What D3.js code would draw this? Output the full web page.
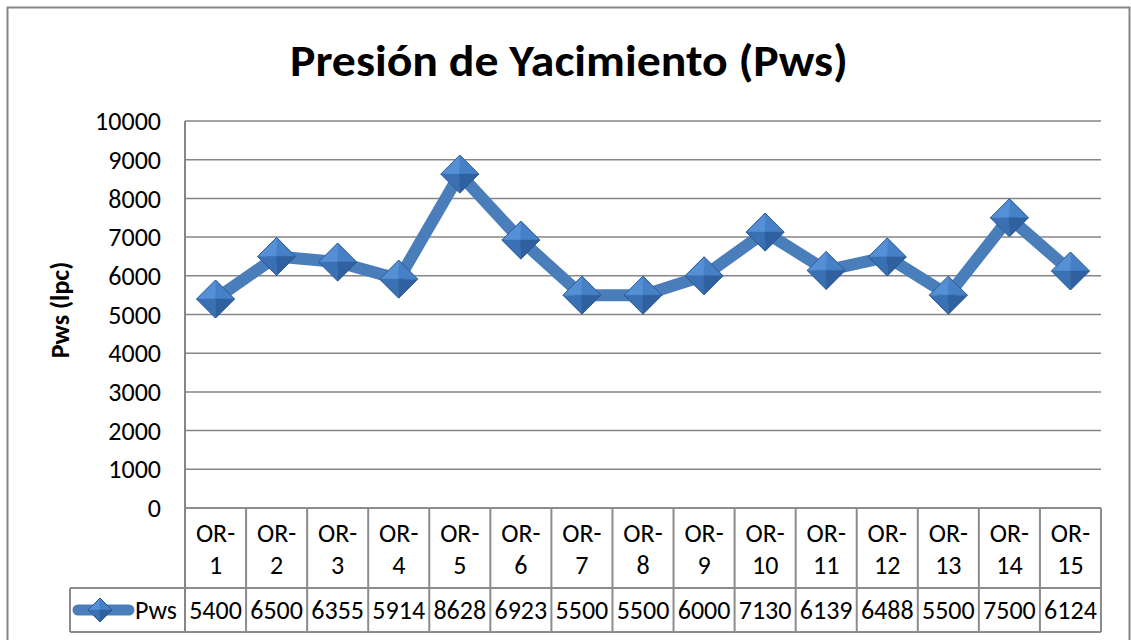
<!DOCTYPE html>
<meta charset="UTF-8">
<script src="https://d3js.org/d3.v7.min.js"></script>
<style>
  body { margin: 0; background: #fff; }
  text { font-family: "Carlito", "Open Sans", sans-serif; fill: #000; }
</style>
<body>
<div id="mysvg"></div>
<script>

// data
var categories = ["OR-1","OR-2","OR-3","OR-4","OR-5","OR-6","OR-7","OR-8","OR-9","OR-10","OR-11","OR-12","OR-13","OR-14","OR-15"];
var pws = [5400, 6500, 6355, 5914, 8628, 6923, 5500, 5500, 6000, 7130, 6139, 6488, 5500, 7500, 6124];
var yTicks = [0, 1000, 2000, 3000, 4000, 5000, 6000, 7000, 8000, 9000, 10000];
var seriesName = "Pws";
var title = "Presión de Yacimiento (Pws)";
var yTitle = "Pws (lpc)";

var W = 1131, H = 640;
var plotLeft = 185, plotRight = 1101, plotTop = 121, plotBottom = 508;
var rowCat = 588, rowVal = 632, legendLeft = 70;
var gridColor = "#868686";
var lineColor = "#4a7ebb";
var fs = "26px";

var svg = d3.select("#mysvg")
  .append("svg")
    .attr("width", W)
    .attr("height", H);

// chart border
svg.append("rect")
  .attr("x", 7.5).attr("y", 7.5)
  .attr("width", 1122).attr("height", 660)
  .attr("fill", "none")
  .attr("stroke", gridColor)
  .attr("stroke-width", 2);

var x = d3.scaleBand()
  .domain(categories)
  .range([plotLeft, plotRight]);

var y = d3.scaleLinear()
  .domain([0, 10000])
  .range([plotBottom, plotTop]);

// gridlines
svg.append("g")
  .selectAll("line")
  .data(yTicks)
  .enter()
  .append("line")
    .attr("x1", plotLeft).attr("x2", plotRight)
    .attr("y1", function (d) { return y(d); })
    .attr("y2", function (d) { return y(d); })
    .attr("stroke", gridColor)
    .attr("stroke-width", 1.5);

// y axis line
svg.append("line")
  .attr("x1", plotLeft).attr("x2", plotLeft)
  .attr("y1", plotTop).attr("y2", rowVal)
  .attr("stroke", gridColor)
  .attr("stroke-width", 2);

// y tick labels
svg.append("g")
  .selectAll("text")
  .data(yTicks)
  .enter()
  .append("text")
    .attr("x", 161)
    .attr("y", function (d) { return y(d); })
    .attr("dy", "0.35em")
    .attr("text-anchor", "end")
    .style("font-size", fs)
    .text(function (d) { return d; });

// y axis title
svg.append("text")
  .attr("transform", "translate(69," + 310 + ") rotate(-90)")
  .attr("text-anchor", "middle")
  .style("font-size", "26px")
  .style("font-weight", "bold")
  .text(yTitle);

// chart title
svg.append("text")
  .attr("x", 569)
  .attr("y", 76)
  .attr("text-anchor", "middle")
  .attr("textLength", 558)
  .attr("lengthAdjust", "spacingAndGlyphs")
  .style("font-size", "44px")
  .style("font-weight", "bold")
  .text(title);

// data table
var tbl = svg.append("g")
  .attr("stroke", "#8c8c8c")
  .attr("stroke-width", 2);

tbl.append("line").attr("x1", plotLeft).attr("x2", plotRight).attr("y1", plotBottom).attr("y2", plotBottom);
tbl.append("line").attr("x1", legendLeft).attr("x2", plotRight).attr("y1", rowCat).attr("y2", rowCat);
tbl.append("line").attr("x1", legendLeft).attr("x2", plotRight).attr("y1", rowVal).attr("y2", rowVal);
tbl.append("line").attr("x1", legendLeft).attr("x2", legendLeft).attr("y1", rowCat).attr("y2", rowVal);
tbl.selectAll(".col")
  .data(categories)
  .enter()
  .append("line")
    .attr("x1", function (d) { return x(d) + x.bandwidth(); })
    .attr("x2", function (d) { return x(d) + x.bandwidth(); })
    .attr("y1", plotBottom).attr("y2", rowVal);

var catLabels = svg.append("g")
  .selectAll("text")
  .data(categories)
  .enter()
  .append("text")
    .attr("text-anchor", "middle")
    .style("font-size", fs);

catLabels.append("tspan")
  .attr("x", function (d) { return x(d) + x.bandwidth() / 2; })
  .attr("y", 542)
  .text(function (d) { return d.split("-")[0] + "-"; });
catLabels.append("tspan")
  .attr("x", function (d) { return x(d) + x.bandwidth() / 2; })
  .attr("y", 574)
  .text(function (d) { return d.split("-")[1]; });

svg.append("g")
  .selectAll("text")
  .data(pws)
  .enter()
  .append("text")
    .attr("x", function (d, i) { return x(categories[i]) + x.bandwidth() / 2; })
    .attr("y", 619)
    .attr("text-anchor", "middle")
    .style("font-size", fs)
    .text(function (d) { return d; });

// diamond marker with four shaded facets
function diamond(g, cx, cy, r) {
  var facets = [
    { pts: [[cx, cy - r], [cx - r, cy], [cx, cy]], fill: "#5590d6" },
    { pts: [[cx, cy - r], [cx + r, cy], [cx, cy]], fill: "#4680c6" },
    { pts: [[cx - r, cy], [cx, cy + r], [cx, cy]], fill: "#3a70b4" },
    { pts: [[cx + r, cy], [cx, cy + r], [cx, cy]], fill: "#2f60a0" }
  ];
  facets.forEach(function (f) {
    g.append("path")
      .attr("d", "M" + f.pts.join("L") + "Z")
      .attr("fill", f.fill)
      .attr("stroke", f.fill)
      .attr("stroke-width", 0.5);
  });
  g.append("path")
    .attr("d", "M" + cx + "," + (cy - r) + "L" + (cx + r) + "," + cy + "L" + cx + "," + (cy + r) + "L" + (cx - r) + "," + cy + "Z")
    .attr("fill", "none")
    .attr("stroke", "#2b5a94")
    .attr("stroke-width", 1);
}

// legend
svg.append("line")
  .attr("x1", 78).attr("x2", 129)
  .attr("y1", 610).attr("y2", 610)
  .attr("stroke", lineColor)
  .attr("stroke-width", 11)
  .attr("stroke-linecap", "round");
diamond(svg.append("g"), 100, 610, 12);
svg.append("text")
  .attr("x", 135)
  .attr("y", 619)
  .style("font-size", fs)
  .text(seriesName);

// series line
var line = d3.line()
  .x(function (d, i) { return x(categories[i]) + x.bandwidth() / 2; })
  .y(function (d) { return y(d); });

svg.append("path")
  .datum(pws)
  .attr("d", line)
  .attr("fill", "none")
  .attr("stroke", lineColor)
  .attr("stroke-width", 12)
  .attr("stroke-linejoin", "miter");

var markers = svg.append("g");
pws.forEach(function (d, i) {
  diamond(markers, x(categories[i]) + x.bandwidth() / 2, y(d), 19);
});

</script>
</body>
